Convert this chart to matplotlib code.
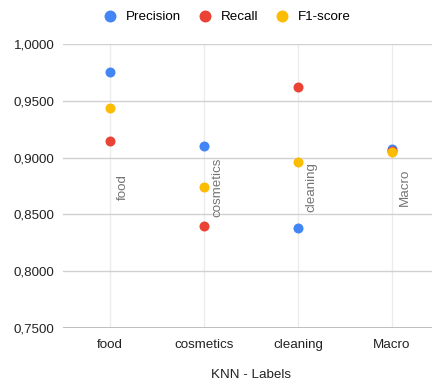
import matplotlib.pyplot as plt
from matplotlib.lines import Line2D
from matplotlib.ticker import FuncFormatter

plt.rcParams['font.family'] = ['Liberation Sans', 'DejaVu Sans']

categories = ['food', 'cosmetics', 'cleaning', 'Macro']
precision = [0.9754, 0.9102, 0.8383, 0.9080]
recall = [0.9149, 0.8400, 0.9620, 0.9060]
f1_score = [0.9439, 0.8739, 0.8959, 0.9046]
label_level = 0.874

colors = {'Precision': '#4285F4', 'Recall': '#EA4335', 'F1-score': '#FBBC04'}
fs = 9.6

fig = plt.figure(figsize=(4.32, 3.85), dpi=100)
ax = fig.add_axes([63 / 432, 1 - 328 / 385, 376 / 432, 284 / 385])

x = list(range(len(categories)))
for name, vals in [('Precision', precision), ('Recall', recall), ('F1-score', f1_score)]:
    ax.scatter(x, vals, s=52, color=colors[name], zorder=3, linewidths=0)

# category names written vertically beside each column
for i, cat in enumerate(categories):
    ax.annotate(cat, (i, label_level), xytext=(5, 0), textcoords='offset points',
                rotation=90, ha='left', va='center', fontsize=fs, color='#757575')

ax.set_xlim(-0.5, 3.5)
ax.set_ylim(0.75, 1.0)
ax.set_yticks([0.75, 0.80, 0.85, 0.90, 0.95, 1.0])
ax.yaxis.set_major_formatter(FuncFormatter(lambda v, p: f'{v:.4f}'.replace('.', ',')))
ax.set_xticks(x)
ax.set_xticklabels(categories)
ax.tick_params(length=0, labelsize=fs, colors='#222222')
ax.tick_params(axis='y', pad=6)
ax.tick_params(axis='x', pad=8)

for s in ax.spines.values():
    s.set_visible(False)
ax.grid(axis='y', color='#d0d0d0', linewidth=1, zorder=0)
ax.grid(axis='x', color='#ececec', linewidth=1, zorder=0)
ax.axhline(0.75, color='#b5b5b5', linewidth=1.2, zorder=1)
ax.set_axisbelow(True)

ax.set_xlabel('KNN - Labels', fontsize=fs, color='#222222', labelpad=13)

handles = [Line2D([], [], marker='o', linestyle='', markersize=8.6, color=c,
                  markeredgewidth=0, label=n) for n, c in colors.items()]
fig.legend(handles=handles, loc='center', bbox_to_anchor=(227 / 432, 1 - 17 / 385),
           ncol=3, frameon=False, fontsize=fs, handletextpad=0.70, columnspacing=1.30,
           handlelength=1.0)

fig.savefig('out.png', dpi=100)
